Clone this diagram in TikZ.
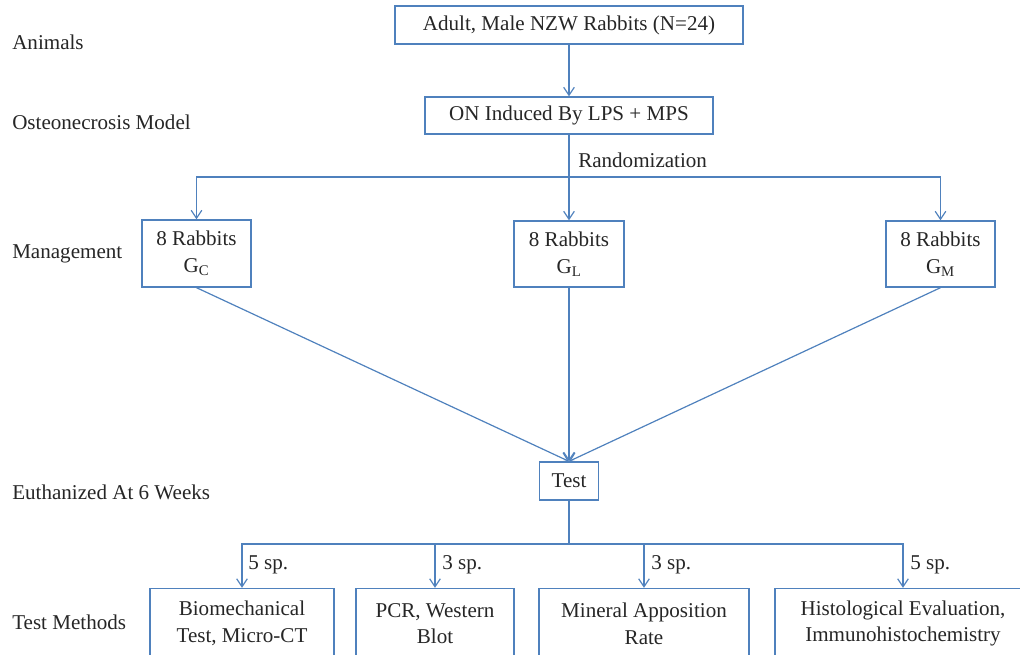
\documentclass[tikz,border=0pt]{standalone}
\usepackage{fontspec}
\setmainfont{Liberation Serif}
\usetikzlibrary{arrows.meta}
\definecolor{lineblue}{RGB}{79,129,189}
\begin{document}
\begin{tikzpicture}[x=0.75pt,y=-0.75pt,
  box/.style={draw=lineblue,line width=1pt,align=center,inner sep=0pt,
    font=\fontsize{15.8}{20}\selectfont,text=black!85},
  conn/.style={draw=lineblue,line width=0.9pt},
  arr/.style={conn,-{Straight Barb[length=6pt,width=8pt]}},
  lbl/.style={anchor=west,inner sep=0pt,font=\fontsize{15.8}{20}\selectfont,text=black!85}]
\clip (0,0) rectangle (1020,654);
% left labels
\node[lbl] (l1) at (12,42) {Animals};
\node[lbl] (l2) at (12,122) {Osteonecrosis Model};
\node[lbl] (l3) at (12,254) {Management};
\node[lbl] (l4) at (12,492) {Euthanized At 6 Weeks};
\node[lbl] (l5) at (12,622) {Test Methods};
% boxes
\node[box,minimum width=261pt,minimum height=28.5pt] (top) at (569,25) {Adult, Male NZW Rabbits (N=24)};
\node[box,minimum width=216pt,minimum height=27.75pt] (on) at (569,115.5) {ON Induced By LPS + MPS};
\node[box,minimum width=81.75pt,minimum height=50.25pt] (gc) at (196.5,253.5) {8 Rabbits\\G\textsubscript{C}};
\node[box,minimum width=82.5pt,minimum height=49.5pt] (gl) at (569,254) {8 Rabbits\\G\textsubscript{L}};
\node[box,minimum width=81.75pt,minimum height=49.5pt] (gm) at (940.5,254) {8 Rabbits\\G\textsubscript{M}};
\node[box,minimum width=44.25pt,minimum height=28.5pt] (test) at (569,481) {Test};
\node[box,minimum width=138pt,minimum height=52.5pt] (b1) at (242,623.5) {Biomechanical\\Test, Micro-CT};
\node[box,minimum width=118.5pt,minimum height=52.5pt] (b2) at (435,623.5) {PCR, Western\\Blot};
\node[box,minimum width=157.5pt,minimum height=52.5pt] (b3) at (644,623.5) {Mineral Apposition\\Rate};
\node[box,minimum width=192pt,minimum height=52.5pt] (b4) at (903,623.5) {Histological Evaluation,\\Immunohistochemistry};
% connectors
\draw[arr] (top.south) -- (on.north);
\coordinate (r) at (569,177);
\draw[conn] (on.south) -- (r);
\draw[arr] (r) -| (gc.north);
\draw[arr] (r) -| (gm.north);
\draw[arr] (r) -- (gl.north);
\node[lbl] (rand) at (578,160) {Randomization};
\draw[arr] (gc.south) -- (test.north);
\draw[arr] (gl.south) -- (test.north);
\draw[arr] (gm.south) -- (test.north);
\coordinate (s) at (569,544);
\draw[conn] (test.south) -- (s);
\draw[arr] (s) -| (b1.north);
\draw[arr] (s) -| (b2.north);
\draw[arr] (s) -| (b3.north);
\draw[arr] (s) -| (b4.north);
\node[lbl] (sp1) at (248,565) {5 sp.};
\node[lbl] (sp2) at (442,565) {3 sp.};
\node[lbl] (sp3) at (651,565) {3 sp.};
\node[lbl] (sp4) at (910,565) {5 sp.};
\end{tikzpicture}
\end{document}
